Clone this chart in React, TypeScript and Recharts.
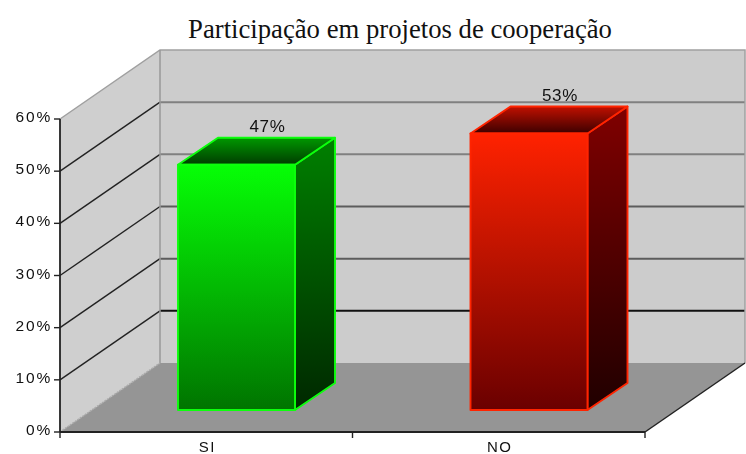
import React from "react";
import { BarChart, Bar, XAxis, YAxis, ReferenceArea, LabelList } from "recharts";

const categories = ["SI", "NO"];
const values = [47, 53];
const yTicks = [0, 10, 20, 30, 40, 50, 60];
const title = "Participação em projetos de cooperação";

const palette: Record<string, { id: string; edge: string; front: [string, string]; side: [string, string]; top: [string, string] }> = {
  SI: { id: "g", edge: "#0cff0c", front: ["#06ff06", "#007400"], side: ["#008000", "#002800"], top: ["#009800", "#003c00"] },
  NO: { id: "r", edge: "#ff2400", front: ["#ff2200", "#6a0000"], side: ["#800000", "#200000"], top: ["#c01000", "#3c0000"] },
};

const data = categories.map((name, i) => ({ name, value: values[i] }));

const DEPTH_X = 100;
const DEPTH_Y = 69;
const BAR_DX = 30;
const BAR_DY = 22;
const BOX_X = 40;
const BOX_Y = 27;
const gridColors: Record<number, string> = { 10: "#111", 20: "#5c5c5c", 30: "#5c5c5c", 40: "#808080", 50: "#808080" };

function Walls(props: any) {
  const { x, y, width, height } = props;
  const bottom = y + height;
  const right = x + width;
  const bx = x + DEPTH_X;
  const by = bottom - DEPTH_Y;
  const top = y - DEPTH_Y;
  return (
    <g>
      <polygon points={`${x},${y} ${bx},${top} ${bx},${by} ${x},${bottom}`} fill="#cfcfcf" />
      <rect x={bx} y={top} width={width} height={height} fill="#cccccc" />
      <polygon points={`${x},${bottom} ${bx},${by} ${right + DEPTH_X},${by} ${right},${bottom}`} fill="#959595" />
      {yTicks.slice(1, -1).map((t) => {
        const ty = bottom - (height * t) / 60;
        return (
          <g key={t}>
            <line x1={x} y1={ty} x2={bx} y2={ty - DEPTH_Y} stroke="#222" strokeWidth={1.4} />
            <line x1={bx} y1={ty - DEPTH_Y} x2={right + DEPTH_X} y2={ty - DEPTH_Y} stroke={gridColors[t]} strokeWidth={2} />
          </g>
        );
      })}
      <polyline points={`${x},${y} ${bx},${top} ${right + DEPTH_X},${top} ${right + DEPTH_X},${by}`} fill="none" stroke="#a0a0a0" strokeWidth={1.5} />
      <line x1={bx} y1={top} x2={bx} y2={by} stroke="#999" strokeWidth={1.5} />
      <line x1={x} y1={bottom} x2={bx} y2={by} stroke="#aaa" strokeWidth={1.5} strokeDasharray="2 1" />
      <line x1={right} y1={bottom} x2={right + DEPTH_X} y2={by} stroke="#222" strokeWidth={1.5} />
    </g>
  );
}

function Box3D(props: any) {
  const { x, y, width, height, name } = props;
  const p = palette[name];
  const l = x + BAR_DX;
  const r = l + width;
  const t = y - BAR_DY;
  const b = t + height;
  return (
    <g stroke={p.edge} strokeWidth={1.9} strokeLinejoin="round">
      <defs>
        <linearGradient id={p.id + "f"} x1="0" y1="0" x2="0" y2="1">
          <stop offset="0" stopColor={p.front[0]} />
          <stop offset="1" stopColor={p.front[1]} />
        </linearGradient>
        <linearGradient id={p.id + "s"} x1="0" y1="0" x2="0" y2="1">
          <stop offset="0" stopColor={p.side[0]} />
          <stop offset="1" stopColor={p.side[1]} />
        </linearGradient>
        <linearGradient id={p.id + "t"} x1="0" y1="0" x2="0" y2="1">
          <stop offset="0" stopColor={p.top[0]} />
          <stop offset="1" stopColor={p.top[1]} />
        </linearGradient>
      </defs>
      <polygon points={`${r},${t} ${r + BOX_X},${t - BOX_Y} ${r + BOX_X},${b - BOX_Y} ${r},${b}`} fill={`url(#${p.id}s)`} />
      <polygon points={`${l},${t} ${l + BOX_X},${t - BOX_Y} ${r + BOX_X},${t - BOX_Y} ${r},${t}`} fill={`url(#${p.id}t)`} />
      <rect x={l} y={t} width={width} height={height} fill={`url(#${p.id}f)`} />
    </g>
  );
}

function BarValue(props: any) {
  const { x, y, width, value } = props;
  return (
    <text x={x + width / 2 + BAR_DX + 31} y={y - BAR_DY - BOX_Y - 6} textAnchor="middle" fontFamily="'Liberation Sans', Arial, sans-serif" fontSize={17} letterSpacing={0.7} fill="#111">
      {value}%
    </text>
  );
}

function XTick(props: any) {
  const { x, y, payload, index } = props;
  const half = 585 / categories.length / 2;
  const left = x - half;
  return (
    <g>
      {index >= 0 && <line x1={left} y1={y - 8} x2={left} y2={y - 2} stroke="#222" strokeWidth={1.4} />}
      {index === categories.length - 1 && <line x1={x + half} y1={y - 8} x2={x + half} y2={y - 2} stroke="#222" strokeWidth={1.4} />}
      <text x={x + 1} y={y + 12} textAnchor="middle" fontFamily="'Liberation Sans', Arial, sans-serif" fontSize={15} letterSpacing={1.4} fill="#111">
        {payload.value}
      </text>
    </g>
  );
}

function YTick(props: any) {
  const { x, y, payload } = props;
  return (
    <text x={x + 2} y={y + 3} textAnchor="end" fontFamily="'Liberation Sans', Arial, sans-serif" fontSize={15.5} letterSpacing={1.8} fill="#111">
      {payload.value}%
    </text>
  );
}

export default function App() {
  return (
    <div style={{ position: "absolute", left: 0, top: 0, width: 746, height: 454, background: "#fff", overflow: "hidden" }}>
      <div style={{ position: "absolute", left: 0, top: 15, width: 800, textAlign: "center", fontFamily: "'Liberation Serif', 'Times New Roman', serif", fontSize: 26.7, lineHeight: "28px", color: "#111" }}>
        {title}
      </div>
      <div style={{ position: "absolute", left: 0, top: 0, filter: "blur(0.6px)" }}>
        <BarChart width={746} height={454} data={data} margin={{ top: 119, right: 101, bottom: 0, left: 0 }} barCategoryGap={0}>
          <XAxis dataKey="name" height={22} interval={0} tickLine={false} tick={<XTick />} axisLine={{ stroke: "#222", strokeWidth: 1.8 }} />
          <YAxis width={60} domain={[0, 60]} ticks={yTicks} interval={0} tickSize={6} tickMargin={4} tickLine={{ stroke: "#222", strokeWidth: 1.4 }} axisLine={{ stroke: "#222", strokeWidth: 1.8 }} tick={<YTick />} />
          <ReferenceArea y1={0} y2={60} ifOverflow="visible" shape={<Walls />} />
          <Bar dataKey="value" barSize={117} isAnimationActive={false} shape={<Box3D />}>
            <LabelList dataKey="value" content={<BarValue />} />
          </Bar>
        </BarChart>
      </div>
    </div>
  );
}
